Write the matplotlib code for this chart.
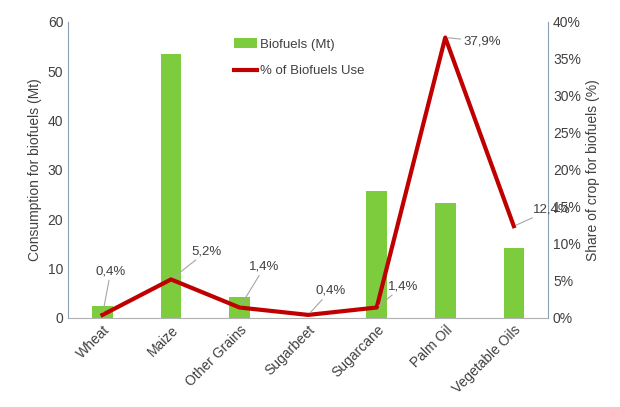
import matplotlib.pyplot as plt
import numpy as np
from matplotlib.ticker import FuncFormatter

# Biofuel consumption by crop and share of each crop going to biofuels
crops = ["Wheat", "Maize", "Other Grains", "Sugarbeet", "Sugarcane", "Palm Oil", "Vegetable Oils"]
biofuels_mt = [2.5, 53.5, 4.3, 0.0, 25.8, 23.2, 14.2]
share_pct = [0.4, 5.2, 1.4, 0.4, 1.4, 37.9, 12.4]
share_labels = ["0,4%", "5,2%", "1,4%", "0,4%", "1,4%", "37,9%", "12,4%"]

# label offsets (points) for the percentage callouts
label_offsets = [(-5, 27), (15, 16), (7, 25), (5, 13), (8, 11), (13, -7), (14, 8)]

plt.rcParams["font.family"] = ["Liberation Sans", "DejaVu Sans"]
txt_color = "#404040"
spine_color = "#8EA0B4"

fig, ax = plt.subplots(figsize=(6.2, 4.07), dpi=100)
fig.subplots_adjust(left=0.110, right=0.884, bottom=0.219, top=0.946)

x = np.arange(len(crops))
bars = ax.bar(x, biofuels_mt, width=0.3, color="#7DCC3E", label="Biofuels (Mt)", zorder=2)
ax.set_xlim(-0.5, len(crops) - 0.5)
ax.set_ylim(0, 60)
ax.set_yticks(range(0, 61, 10))
ax.set_ylabel("Consumption for biofuels (Mt)", color=txt_color, fontsize=10)
ax.set_xticks(x)
ax.set_xticklabels(crops, rotation=45, ha="right", rotation_mode="anchor", fontsize=9.5, color=txt_color)

ax2 = ax.twinx()
line, = ax2.plot(x, share_pct, color="#C00000", lw=3, label="% of Biofuels Use", zorder=3)
ax2.set_ylim(0, 40)
ax2.set_yticks(range(0, 41, 5))
ax2.yaxis.set_major_formatter(FuncFormatter(lambda v, p: f"{v:.0f}%"))
ax2.set_ylabel("Share of crop for biofuels (%)", color=txt_color, fontsize=10)

for a in (ax, ax2):
    a.tick_params(length=0, labelsize=10, colors=txt_color)
    a.spines["top"].set_visible(False)
    a.spines["left"].set_color(spine_color)
    a.spines["right"].set_color(spine_color)
    a.spines["bottom"].set_color("#B0B0B0")
ax.spines["right"].set_visible(False)
ax2.spines["left"].set_visible(False)
ax2.spines["bottom"].set_visible(False)

for xi, yi, lab, off in zip(x, share_pct, share_labels, label_offsets):
    ax2.annotate(lab, xy=(xi, yi), xytext=off, textcoords="offset points",
                 ha="left", va="bottom", fontsize=9.5, color=txt_color,
                 arrowprops=dict(arrowstyle="-", color="#A6A6A6", lw=0.8,
                                 shrinkA=0, shrinkB=2))

ax.legend([bars, line], ["Biofuels (Mt)", "% of Biofuels Use"], loc="upper left",
          bbox_to_anchor=(0.32, 0.985), frameon=False, fontsize=9.5,
          labelcolor=txt_color, handlelength=1.8, handletextpad=0.2,
          labelspacing=1.1)

fig.savefig("out.png", dpi=100)
